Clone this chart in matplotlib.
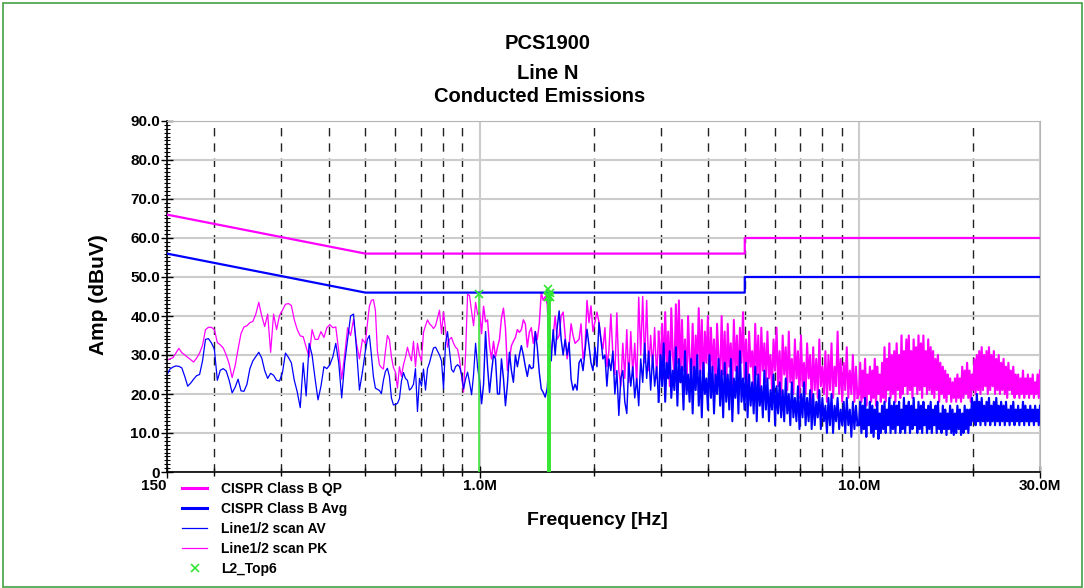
import numpy as np
import matplotlib
matplotlib.use("Agg")
import matplotlib.pyplot as plt
from matplotlib.ticker import FixedLocator, NullFormatter
from matplotlib.lines import Line2D
from matplotlib.patches import Rectangle

plt.rcParams['font.family'] = ['Liberation Sans', 'DejaVu Sans']
plt.rcParams['font.weight'] = 'bold'

# CISPR 22 class B limits (Hz, dBuV)
lim_f = [150e3, 500e3, 5e6, 5e6, 30e6]
qp_lim = [66, 56, 56, 60, 60]
avg_lim = [56, 46, 46, 50, 50]

# scan traces
seg_edges = [150e3, 500e3, 1e6, 3e6, 10e6, 30e6]

pk_s1 = [28.7, 29.0, 29.3, 30.5, 31.7, 30.6, 30.0, 29.4, 28.8, 28.2,
         29.2, 30.5, 32.5, 36.5, 37.1, 37.1, 36.5, 33.2, 32.6, 31.8,
         30.0, 27.7, 24.2, 27.2, 31.5, 35.5, 37.2, 37.5, 38.3, 38.6,
         40.5, 43.5, 40.0, 37.3, 40.5, 30.7, 40.5, 36.5, 40.1, 41.5,
         43.0, 43.2, 42.7, 39.0, 36.5, 34.9, 34.7, 32.0, 29.5, 36.5,
         34.0, 34.0, 36.0, 34.5, 37.0, 37.8, 37.0, 37.2, 31.0, 23.8,
         30.0, 37.0, 35.0, 39.1, 33.0, 29.0, 34.0]
av_s1 = [24.9, 26.4, 26.9, 27.2, 27.1, 26.7, 24.5, 22.0, 22.8, 23.8,
         24.7, 25.0, 28.5, 34.0, 34.2, 33.1, 31.5, 23.5, 26.1, 26.5,
         25.9, 23.5, 20.3, 21.7, 23.8, 20.8, 20.7, 22.5, 26.5, 28.5,
         29.6, 30.7, 29.2, 26.0, 24.0, 25.3, 24.8, 23.5, 23.3, 25.5,
         30.5, 29.4, 28.0, 23.5, 20.5, 16.5, 28.0, 19.5, 33.0, 30.0,
         24.0, 18.5, 22.0, 27.0, 26.5, 27.5, 29.5, 33.0, 28.0, 19.0,
         28.0, 34.0, 40.0, 40.5, 31.5, 21.0, 25.6]

pk_s2 = [33, 38, 42.5, 44, 44.2, 41.5, 31, 27.5, 26.8, 26.4,
         31, 35, 34, 29.5, 26.8, 25.6, 21.5, 27, 24.5, 27.5,
         29.4, 32, 30, 28.5, 33.5, 27, 33, 30, 28.5, 35.8,
         37.5, 39, 38, 37.5, 36.8, 37.5, 39.5, 41.5, 35.5, 41,
         36.5, 32, 34, 34.5, 33, 32, 31.5,
         28.9, 24.5, 20.5, 30, 45.6, 45.2, 41.2, 37.5, 43.5, 40.5]
av_s2 = [31, 34, 35, 30, 24.5, 21.5, 21.2, 20.9, 20.1, 23.5,
         25.8, 26.6, 24.5, 19, 17.2, 17.3, 17.6, 18.8, 23.3, 25.5,
         24, 23.5, 21, 21.5, 22.5, 26.5, 15.5, 24, 22, 26.4,
         21, 26.5, 28, 30, 31.8, 32, 31, 30, 28.5, 21.3,
         33, 36, 31, 26.3, 25.6, 27, 27.5,
         27, 25, 21.3, 23.8, 25.6, 23.0, 19.8, 25, 33, 27]

pk_s3 = [40.9, 35.5, 42.5, 38.5, 39, 32.4, 29, 33.5, 29.5, 32,
         34, 39.5, 42, 37, 26, 28.9, 32.4, 33.5, 34.5, 36.5,
         35.8, 36.5, 39, 38, 32, 35.8, 37, 33, 36, 34,
         38, 46, 44, 45, 43, 32.4, 31, 35, 40, 34,
         35, 40, 41, 35, 29, 32.4, 38, 35, 33, 33.5,
         34, 38, 29, 32, 44, 38.3, 42.6, 36, 38.5, 41,
         38.5, 34, 31.5,
         37, 27, 31, 40.5, 30, 25, 40.8, 26, 22, 33,
         24, 36.5, 23, 36, 25, 33, 22, 44.8, 30, 45,
         28, 44, 26, 35, 27, 37, 24, 36]
av_s3 = [23.5, 17.5, 22.5, 36, 27, 20.4, 25.6, 30, 29, 20,
         20, 29, 24, 17, 22.5, 30.7, 26, 23, 30, 27,
         30, 32.4, 30, 27, 24.5, 27.5, 26.5, 26.8, 36, 32,
         25.6, 21.3, 20.4, 19.2, 21.5, 29.5, 28.5, 36.5, 30, 37,
         41.3, 34, 30, 34, 30, 33.2, 23.8, 21, 22.5, 21,
         28, 29, 26, 31, 36.6, 32.4, 28, 26, 32, 27,
         38.3, 34, 29,
         30, 22, 29, 26, 31, 20, 26, 14.5, 24, 26,
         18, 15, 28, 22, 27, 19, 24, 17, 29, 23,
         33, 24, 31, 21, 30, 22, 27, 18]

pk_s4 = [26, 38, 24, 41, 27, 36, 22, 42, 30, 25,
         43, 28, 44, 23, 39, 26, 34, 21, 40, 29,
         24, 38, 22, 35, 27, 42, 25, 39, 21, 36,
         28, 40, 23, 37, 26, 34, 22, 38, 29, 24,
         40, 25, 36, 21, 38, 27, 33, 22, 39, 26,
         35, 23, 37, 28, 41, 24, 34, 21, 36, 27,
         31, 22, 38, 25, 35, 20, 37, 26, 33, 23,
         36, 24, 30, 21, 34, 26, 37, 22, 31, 20,
         35, 25, 32, 21, 36, 23, 29, 20, 34, 24,
         31, 19, 35, 22, 28, 20, 33, 24, 30, 18,
         32, 21, 29, 19, 34, 22, 27, 20, 31, 18,
         30, 21, 33, 19, 27, 22, 36, 20, 29, 18,
         28, 21, 32, 19, 26, 20, 30, 18, 27, 19]
av_s4 = [30, 22, 33, 18, 28, 24, 31, 19, 26, 21,
         32, 17, 29, 23, 27, 16, 31, 20, 25, 18,
         29, 15, 27, 21, 30, 17, 26, 14, 28, 20,
         24, 16, 30, 19, 27, 15, 25, 20, 29, 17,
         26, 14, 28, 18, 25, 16, 29, 13, 24, 19,
         27, 15, 31, 18, 24, 16, 28, 14, 25, 17,
         23, 15, 27, 13, 25, 17, 22, 14, 26, 16,
         24, 13, 21, 16, 25, 12, 22, 15, 23, 14,
         21, 13, 24, 15, 20, 12, 23, 14, 19, 13,
         22, 11, 20, 14, 23, 12, 19, 13, 21, 11,
         20, 12, 18, 14, 21, 11, 19, 13, 17, 10,
         19, 12, 20, 10, 17, 13, 19, 11, 16, 12,
         18, 10, 19, 12, 16, 9, 18, 11, 17, 12]

pk_s5 = [20, 28, 18, 26, 19, 29, 17, 25, 20, 27,
         18, 26, 19, 29, 17, 27, 20, 25, 18, 28,
         19, 32, 18, 29, 21, 33, 19, 30, 20, 31,
         18, 33, 21, 30, 19, 35, 20, 31, 22, 34,
         20, 35, 21, 31, 19, 34, 22, 32, 20, 35,
         21, 33, 19, 35, 22, 31, 20, 34, 21, 32,
         20, 31, 19, 29, 21, 30, 18, 28, 20, 27,
         19, 26, 18, 25, 20, 24, 18, 23, 19, 24,
         18, 25, 19, 24, 18, 27, 19, 26, 20, 28,
         19, 26, 18, 25, 21, 29, 20, 30, 21, 31,
         20, 32, 21, 30, 22, 31, 20, 32, 21, 30,
         22, 31, 20, 29, 21, 30, 20, 28, 21, 29,
         20, 27, 19, 28, 21, 26, 20, 27, 19, 25,
         20, 25, 19, 24, 20, 26, 19, 24, 20, 25,
         19, 24, 20, 25, 19, 23, 20, 25, 19, 26]
av_s5 = [12, 18, 10, 17, 11, 19, 9, 16, 12, 18,
         10, 17, 9, 16, 11, 18, 8.5, 15, 10, 17,
         11, 18, 10, 16, 12, 19, 10, 17, 11, 18,
         10, 17, 12, 18, 10, 16, 11, 19, 10, 17,
         12, 18, 10, 17, 11, 19, 12, 16, 10, 18,
         11, 17, 10, 18, 12, 16, 10, 17, 11, 18,
         10, 16, 12, 17, 10, 18, 11, 15, 10, 17,
         11, 16, 9.5, 15, 11, 17, 10, 16, 9.5, 15,
         10, 17, 11, 16, 9.5, 15, 10, 17, 11, 16,
         10, 16, 12, 19, 13, 18, 12, 20, 13, 18,
         12, 19, 13, 17, 12, 18, 13, 19, 12, 17,
         13, 18, 12, 19, 13, 17, 12, 18, 13, 17,
         12, 18, 13, 16, 12, 17, 13, 18, 12, 16,
         13, 17, 12, 16, 13, 18, 12, 17, 13, 16,
         12, 17, 13, 16, 12, 17, 13, 16, 12, 17]

# top 6 peaks
top_f = [0.996e6, 1.512e6, 1.518e6, 1.524e6, 1.530e6, 1.536e6]
top_v = [45.6, 44.8, 46.9, 45.2, 45.8, 44.9]

pk_segs = [pk_s1, pk_s2, pk_s3, pk_s4, pk_s5]
av_segs = [av_s1, av_s2, av_s3, av_s4, av_s5]
# the scan gets denser to the right, so the trace is drawn heavier there
seg_lw = [0.9, 0.9, 1.05, 1.45, 1.55]

MAG = '#ff00ff'
BLU = '#0000ff'
GRN = '#33e633'


def draw_scan(ax, segs, color, z):
    prev_f = prev_v = None
    for i, s in enumerate(segs):
        last = i == len(segs) - 1
        f = np.geomspace(seg_edges[i], seg_edges[i + 1], len(s), endpoint=last)
        v = np.asarray(s, dtype=float)
        if prev_f is not None:
            f = np.r_[prev_f, f]
            v = np.r_[prev_v, v]
        ax.plot(f, v, color=color, lw=seg_lw[i], zorder=z)
        prev_f, prev_v = f[-1], v[-1]


fig = plt.figure(figsize=(10.84, 5.88), dpi=100)
ax = fig.add_axes([167 / 1084, 1 - 472 / 588, 873 / 1084, 351 / 588])

ax.plot(lim_f, qp_lim, color=MAG, lw=1.6, zorder=3)
ax.plot(lim_f, avg_lim, color=BLU, lw=1.6, zorder=3)
draw_scan(ax, pk_segs, MAG, 2)
draw_scan(ax, av_segs, BLU, 2.1)
ax.vlines(top_f, 0, top_v, color=GRN, lw=1.1, zorder=4)
ax.plot(top_f, top_v, 'x', color=GRN, ms=6, mew=1.2, zorder=5)

ax.set_xscale('log')
ax.set_xlim(150e3, 30e6)
ax.set_ylim(0, 90)

ax.set_xticks([150e3, 1e6, 10e6, 30e6])
ax.set_xticklabels(['150', '1.0M', '10.0M', '30.0M'])
ax.xaxis.set_minor_locator(FixedLocator([2e5, 3e5, 4e5, 5e5, 6e5, 7e5, 8e5, 9e5,
                                         2e6, 3e6, 4e6, 5e6, 6e6, 7e6, 8e6, 9e6, 2e7]))
ax.xaxis.set_minor_formatter(NullFormatter())
ax.set_yticks(np.arange(0, 91, 10))
ax.set_yticklabels(['0'] + ['%.1f' % v for v in range(10, 91, 10)])
ax.yaxis.set_minor_locator(FixedLocator(np.arange(0, 91, 1)))

ax.tick_params(axis='both', which='major', labelsize=11, direction='inout', length=8, width=1, pad=1)
ax.tick_params(axis='x', which='minor', direction='inout', length=6, width=1)
ax.tick_params(axis='y', which='minor', direction='inout', length=5, width=0.8)
ax.get_xticklabels()[0].set_ha('right')

ax.grid(True, which='major', axis='both', color='#cccccc', lw=1.5, zorder=0)
ax.grid(True, which='minor', axis='x', color='#222222', lw=1.0, linestyle=(0, (6, 5)), zorder=0)
ax.set_axisbelow(True)

for s in ['top', 'right']:
    ax.spines[s].set_color('#b5b5b5')
for s in ['left', 'bottom']:
    ax.spines[s].set_color('black')
    ax.spines[s].set_linewidth(1.2)

fig.text(548 / 1084, 1 - 49 / 588, 'PCS1900', ha='center', va='baseline', fontsize=14.5, fontweight='bold')
fig.text(548 / 1084, 1 - 79 / 588, 'Line N', ha='center', va='baseline', fontsize=14.5, fontweight='bold')
fig.text(540 / 1084, 1 - 102 / 588, 'Conducted Emissions', ha='center', va='baseline', fontsize=14.5, fontweight='bold')
fig.text(597 / 1084, 1 - 525 / 588, 'Frequency [Hz]', ha='center', va='baseline', fontsize=14, fontweight='bold')
fig.text(98 / 1084, 1 - 295 / 588, 'Amp (dBuV)', ha='center', va='center', rotation=90, fontsize=15, fontweight='bold')

handles = [Line2D([], [], color=MAG, lw=2.2),
           Line2D([], [], color=BLU, lw=2.2),
           Line2D([], [], color=BLU, lw=0.9),
           Line2D([], [], color=MAG, lw=0.9),
           Line2D([], [], color=GRN, marker='x', ls='none', ms=6, mew=1.2)]
labels = ['CISPR Class B QP', 'CISPR Class B Avg', 'Line1/2 scan AV', 'Line1/2 scan PK', 'L2_Top6']
fig.legend(handles, labels, loc='upper left', bbox_to_anchor=(182 / 1084, 1 - 482 / 588),
           bbox_transform=fig.transFigure, frameon=False, borderpad=0, borderaxespad=0,
           handlelength=1.8, handletextpad=1.0, labelspacing=0.43,
           prop={'size': 10, 'weight': 'bold'})

fig.patches.append(Rectangle((3 / 1084, 1.5 / 588), 1079 / 1084, 583.5 / 588, transform=fig.transFigure,
                             fill=False, edgecolor='#44a044', lw=1.2))

fig.savefig('out.png', dpi=100)
